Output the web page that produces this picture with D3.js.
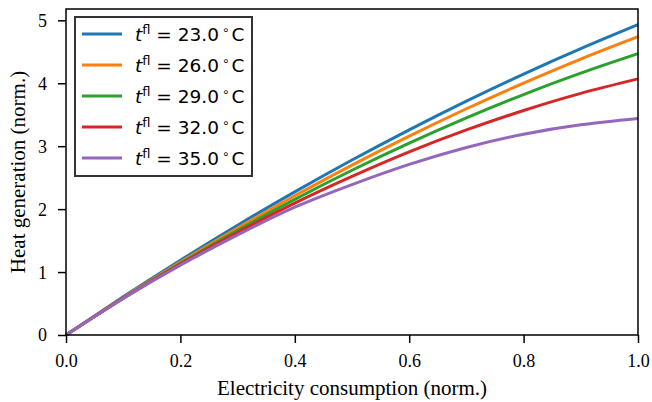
<!DOCTYPE html>
<html>
<head>
<meta charset="utf-8">
<script src="https://cdn.jsdelivr.net/npm/d3@7"></script>
<style>
  body { margin: 0; background: #fff; }
  svg { display: block; }
</style>
</head>
<body>
<div id="chart"></div>
<script>
// x values (normalized electricity consumption)
const xs = [0, 0.1, 0.2, 0.3, 0.4, 0.5, 0.6, 0.7, 0.8, 0.9, 1.0];

// heat generation per flow temperature
const temps = ['23.0', '26.0', '29.0', '32.0', '35.0'];
const heat23 = [0, 0.606, 1.188, 1.744, 2.274, 2.78, 3.26, 3.716, 4.146, 4.55, 4.93];
const heat26 = [0, 0.593, 1.159, 1.699, 2.213, 2.70, 3.16, 3.595, 4.003, 4.385, 4.74];
const heat29 = [0, 0.585, 1.139, 1.662, 2.155, 2.618, 3.049, 3.45, 3.821, 4.161, 4.47];
const heat32 = [0, 0.583, 1.126, 1.630, 2.096, 2.52, 2.91, 3.258, 3.568, 3.84, 4.07];
const heat35 = [0, 0.58, 1.11, 1.59, 2.03, 2.39, 2.71, 2.98, 3.19, 3.34, 3.44];
const series = [heat23, heat26, heat29, heat32, heat35];

const xTicks = [0, 0.2, 0.4, 0.6, 0.8, 1.0];
const yTicks = [0, 1, 2, 3, 4, 5];
const colors = ['#1f77b4', '#ff7f0e', '#2ca02c', '#d62728', '#9467bd'];

const width = 652, height = 402;
const margin = { left: 66, right: 14, top: 9, bottom: 67 };
const serif = '"Liberation Serif", "Times New Roman", serif';

const svg = d3.select('#chart')
  .append('svg')
  .attr('width', width)
  .attr('height', height);

// scales
const x = d3.scaleLinear().domain([0, 1]).range([margin.left, width - margin.right]);
const y = d3.scaleLinear().domain([0, 5.18]).range([height - margin.bottom, margin.top]);

// lines
const line = d3.line()
  .x((d, i) => x(xs[i]))
  .y(d => y(d))
  .curve(d3.curveNatural);

svg.selectAll('.series')
  .data(series)
  .enter().append('path')
  .attr('class', 'series')
  .attr('d', d => line(d))
  .attr('fill', 'none')
  .attr('stroke', (d, i) => colors[i])
  .attr('stroke-width', 3);

// axes
const xAxis = svg.append('g')
  .attr('transform', `translate(0,${height - margin.bottom})`)
  .call(d3.axisBottom(x).tickValues(xTicks).tickFormat(d3.format('.1f')).tickSize(8).tickSizeOuter(0));

const yAxis = svg.append('g')
  .attr('transform', `translate(${margin.left},0)`)
  .call(d3.axisLeft(y).tickValues(yTicks).tickFormat(d3.format('d')).tickSize(8).tickSizeOuter(0));

[xAxis, yAxis].forEach(g => {
  g.select('.domain').remove();
  g.selectAll('.tick line').attr('stroke', '#000').attr('stroke-width', 1.5);
  g.selectAll('.tick text')
    .attr('fill', '#000')
    .style('font-family', serif)
    .style('font-size', '18px');
});
xAxis.selectAll('.tick text').attr('y', 32).attr('dy', null);
yAxis.selectAll('.tick text').attr('x', -19).attr('dy', '0.33em');

// frame
svg.append('rect')
  .attr('x', x(0))
  .attr('y', y(5.18))
  .attr('width', x(1) - x(0))
  .attr('height', y(0) - y(5.18))
  .attr('fill', 'none')
  .attr('stroke', '#000')
  .attr('stroke-width', 1.5);

// axis labels
svg.append('text')
  .attr('x', (x(0) + x(1)) / 2)
  .attr('y', 395)
  .attr('text-anchor', 'middle')
  .style('font-family', serif)
  .style('font-size', '21px')
  .text('Electricity consumption (norm.)');

svg.append('text')
  .attr('transform', `translate(25,${(y(0) + y(5.18)) / 2}) rotate(-90)`)
  .attr('text-anchor', 'middle')
  .style('font-family', serif)
  .style('font-size', '21px')
  .text('Heat generation (norm.)');

// legend
const legend = svg.append('g');
legend.append('rect')
  .attr('x', 75)
  .attr('y', 17)
  .attr('width', 177)
  .attr('height', 159)
  .attr('fill', '#fff')
  .attr('stroke', '#333')
  .attr('stroke-width', 2);

const item = legend.selectAll('.item')
  .data(temps)
  .enter().append('g')
  .attr('class', 'item')
  .attr('transform', (d, i) => `translate(0,${34 + i * 31})`);

item.append('line')
  .attr('x1', 82).attr('x2', 122)
  .attr('stroke', (d, i) => colors[i])
  .attr('stroke-width', 3);

const label = item.append('text')
  .attr('x', 135)
  .attr('y', 7)
  .style('font-family', '"DejaVu Sans", sans-serif')
  .style('font-size', '18.5px');
label.append('tspan').style('font-style', 'italic').text('t');
label.append('tspan').attr('dy', -7).style('font-size', '13px').text('fl');
label.append('tspan').attr('dy', 7).text(d => ` = ${d}`);
label.append('tspan').attr('dy', -7).attr('dx', 3).style('font-size', '12px').text('∘');
label.append('tspan').attr('dy', 7).attr('dx', 2).text('C');
</script>
</body>
</html>
